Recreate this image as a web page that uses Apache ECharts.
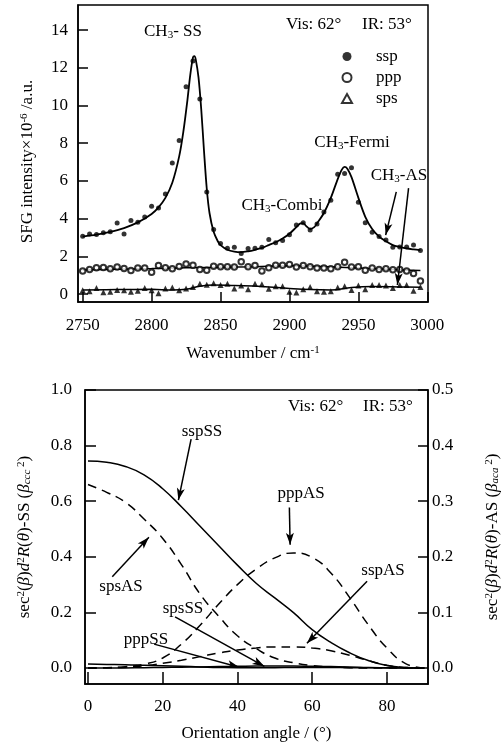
<!DOCTYPE html>
<html><head><meta charset="utf-8">
<script src="https://cdn.jsdelivr.net/npm/echarts@6/dist/echarts.min.js"></script>
<style>html,body{margin:0;padding:0;background:#fff}#c{width:503px;height:748px}</style>
</head><body><div id="c"></div>
<script>
// ---------- Top panel: SFG spectra ----------
const wavenumber = [2750,2755,2760,2765,2770,2775,2780,2785,2790,2795,2800,2805,2810,2815,2820,2825,2830,2835,2840,2845,2850,2855,2860,2865,2870,2875,2880,2885,2890,2895,2900,2905,2910,2915,2920,2925,2930,2935,2940,2945,2950,2955,2960,2965,2970,2975,2980,2985,2990,2995];
const sspSignal = [3.07,3.19,3.16,3.25,3.30,3.77,3.19,3.90,3.81,4.09,4.66,4.57,5.31,6.95,8.15,11.0,12.36,10.35,5.41,3.42,2.68,2.43,2.49,2.15,2.42,2.43,2.49,2.89,2.72,2.84,3.15,3.66,3.78,3.40,3.72,4.35,4.97,6.35,6.40,6.70,4.87,3.78,3.28,3.05,2.87,2.49,2.50,2.50,2.60,2.31];
const pppSignal = [1.22,1.31,1.39,1.41,1.34,1.43,1.36,1.25,1.38,1.38,1.16,1.52,1.39,1.34,1.46,1.60,1.53,1.31,1.27,1.48,1.45,1.45,1.43,1.71,1.45,1.52,1.22,1.39,1.53,1.53,1.57,1.43,1.52,1.45,1.38,1.38,1.34,1.45,1.69,1.43,1.45,1.27,1.38,1.31,1.34,1.29,1.31,1.22,1.09,0.69];
const spsSignal = [0.20,0.15,0.32,0.10,0.12,0.22,0.20,0.12,0.18,0.32,0.20,0.05,0.30,0.35,0.20,0.30,0.38,0.55,0.50,0.58,0.48,0.55,0.30,0.45,0.25,0.55,0.52,0.28,0.42,0.42,0.12,0.08,0.25,0.38,0.15,0.12,0.15,0.35,0.42,0.22,0.45,0.25,0.48,0.48,0.45,0.32,0.48,0.48,0.18,0.38];
const sspFitX = [2750,2760,2770,2780,2790,2800,2805,2810,2815,2820,2823,2826,2828,2830,2831,2832,2834,2836,2838,2840,2842,2845,2848,2850,2855,2860,2865,2870,2875,2880,2885,2890,2895,2900,2905,2908,2910,2912,2915,2918,2920,2925,2930,2935,2938,2940,2942,2945,2950,2955,2960,2965,2970,2975,2980,2985,2990,2995];
const sspFitY = [3.05,3.15,3.30,3.50,3.80,4.25,4.60,5.10,5.90,7.30,8.60,10.30,11.60,12.55,12.62,12.45,11.50,9.80,7.60,5.60,4.30,3.30,2.80,2.60,2.35,2.25,2.22,2.27,2.35,2.45,2.60,2.75,2.95,3.20,3.55,3.75,3.76,3.62,3.45,3.55,3.75,4.30,5.10,6.10,6.60,6.75,6.65,6.20,5.10,4.10,3.45,3.05,2.80,2.60,2.50,2.42,2.37,2.33];
const pppFitX = [2750,2775,2800,2825,2850,2875,2900,2925,2950,2975,2995];
const pppFitY = [1.28,1.32,1.35,1.40,1.42,1.45,1.50,1.46,1.38,1.30,1.25];
const spsFitX = [2750,2775,2800,2815,2825,2835,2845,2860,2880,2900,2915,2930,2945,2960,2980,2995];
const spsFitY = [0.22,0.24,0.25,0.21,0.25,0.42,0.48,0.45,0.40,0.30,0.24,0.22,0.35,0.40,0.38,0.36];
const topXTicks = [2750,2800,2850,2900,2950,3000];
const topYTicks = [0,2,4,6,8,10,12,14];

// ---------- Bottom panel: orientation curves ----------
const angle = [0,5,10,15,20,25,30,35,40,45,50,55,60,65,70,75,80,85,90];
const sspSS = [0.745,0.740,0.725,0.695,0.645,0.580,0.510,0.440,0.370,0.305,0.252,0.199,0.138,0.092,0.055,0.027,0.009,0.002,0.0];
const pppSS = [0.014,0.013,0.012,0.010,0.008,0.006,0.004,0.002,0.001,0.001,0.001,0.002,0.002,0.002,0.001,0.001,0.0005,0,0];
const spsSS = [0,0.0002,0.0005,0.001,0.002,0.003,0.004,0.005,0.006,0.007,0.007,0.007,0.006,0.005,0.004,0.002,0.001,0.0003,0];
const spsAS = [0.330,0.316,0.298,0.268,0.233,0.186,0.133,0.093,0.058,0.035,0.018,0.0095,0.0045,0.002,0.0005,0,0,0,0];
const pppAS = [0,0.0005,0.0025,0.007,0.018,0.043,0.077,0.115,0.150,0.178,0.198,0.207,0.199,0.171,0.127,0.078,0.036,0.008,0];
const sspAS = [0,0.0005,0.0015,0.004,0.0085,0.014,0.0205,0.027,0.0325,0.036,0.038,0.038,0.036,0.031,0.023,0.0135,0.005,0.001,0];
const botXTicks = [0,20,40,60,80];
const botYLeftTicks = [0,0.2,0.4,0.6,0.8,1.0];
const botYRightTicks = [0,0.1,0.2,0.3,0.4,0.5];

const FONT = 'Liberation Serif';
const base = {color:'#000', fontFamily:FONT, fontSize:17};
const supS = {color:'#000', fontFamily:FONT, fontSize:11, verticalAlign:'top'};
const subS = {color:'#000', fontFamily:FONT, fontSize:11, verticalAlign:'bottom'};
const richSet = {
  a: base,
  i: Object.assign({}, base, {fontStyle:'italic'}),
  sup: supS,
  sub: subS,
  isub: Object.assign({}, subS, {fontStyle:'italic'})
};
const axisLineS = {show:true, onZero:false, lineStyle:{color:'#000', width:1.5}};
function tickS(vals, len){ return {show:true, inside:true, length:len, customValues:vals, lineStyle:{color:'#000', width:1.5}}; }

const pairs = (xs, ys) => xs.map((x,i)=>[x, ys[i]]);

const chart = echarts.init(document.getElementById('c'), null, {renderer:'canvas'});

const arrowLine = (a, b) => [{coord:a, symbol:'none'}, {coord:b, symbol:'arrow', symbolSize:[6,12]}];

function txt(x, y, text, align){
  return {type:'text', x:x, y:y, silent:true, style:{text:text, align:align||'center', verticalAlign:'middle', fill:'#000', fontFamily:FONT, fontSize:17, rich:richSet}};
}

const option = {
  animation:false,
  backgroundColor:'#fff',
  grid:[
    {left:78, top:5, width:350, height:297, show:true, borderColor:'#000', borderWidth:1.5, outerBoundsMode:'none', containLabel:false},
    {left:85, top:390, width:343, height:294, show:true, borderColor:'#000', borderWidth:1.5, outerBoundsMode:'none', containLabel:false}
  ],
  legend:{
    left:336, top:43, orient:'vertical', itemWidth:10, itemHeight:9, itemGap:4,
    selectedMode:false,
    textStyle:Object.assign({padding:[0,0,0,19]}, base),
    data:[{name:'ssp', icon:'circle'},
          {name:'ppp', icon:'emptyCircle', itemStyle:{borderWidth:2}},
          {name:'sps', icon:'emptyTriangle', itemStyle:{borderWidth:1.6}}]
  },
  xAxis:[
    {type:'value', gridIndex:0, min:2746.6, max:3000.5, axisLine:axisLineS, axisTick:tickS(topXTicks,10),
     axisLabel:Object.assign({customValues:topXTicks, margin:15, formatter:v=>String(v)}, base), splitLine:{show:false},
     name:'{a|Wavenumber / cm}{sup|-1}', nameLocation:'middle', nameGap:43, nameTextStyle:Object.assign({rich:richSet}, base)},
    {type:'value', gridIndex:1, min:-0.8, max:91, axisLine:axisLineS, axisTick:tickS(botXTicks,12),
     axisLabel:Object.assign({customValues:botXTicks, margin:14, formatter:v=>String(v)}, base), splitLine:{show:false},
     name:'Orientation angle / (°)', nameLocation:'middle', nameGap:41, nameTextStyle:base}
  ],
  yAxis:[
    {type:'value', gridIndex:0, min:-0.42, max:15.33, axisLine:axisLineS, axisTick:tickS(topYTicks,10),
     axisLabel:Object.assign({customValues:topYTicks, margin:10, formatter:v=>String(v)}, base), splitLine:{show:false},
     name:'{a|SFG intensity×10}{sup|-6}{a| /a.u.}', nameLocation:'middle', nameRotate:90, nameGap:42, nameTextStyle:Object.assign({rich:richSet, padding:[0,16,0,0]}, base)},
    {type:'value', gridIndex:1, min:-0.0575, max:1.0, axisLine:axisLineS, axisTick:tickS(botYLeftTicks,11),
     axisLabel:Object.assign({customValues:botYLeftTicks, margin:13, formatter:v=>v.toFixed(1)}, base), splitLine:{show:false},
     name:'{a|sec}{sup|2}{a|(}{i|β}{a|)}{i|d}{sup|2}{i|R}{a|(}{i|θ}{a|)-SS (}{i|β}{isub|ccc}{sup| 2}{a|)}', nameLocation:'middle', nameRotate:90, nameGap:52, nameTextStyle:Object.assign({rich:richSet}, base)},
    {type:'value', gridIndex:1, position:'right', min:-0.02875, max:0.5, axisLine:axisLineS, axisTick:tickS(botYRightTicks,10),
     axisLabel:Object.assign({customValues:botYRightTicks, margin:4, formatter:v=>v.toFixed(1)}, base), splitLine:{show:false},
     name:'{a|sec}{sup|2}{a|(}{i|β}{a|)}{i|d}{sup|2}{i|R}{a|(}{i|θ}{a|)-AS (}{i|β}{isub|aca}{sup| 2}{a|)}', nameLocation:'middle', nameRotate:90, nameGap:56, nameTextStyle:Object.assign({rich:richSet}, base)}
  ],
  series:[
    {name:'ssp fit', type:'line', xAxisIndex:0, yAxisIndex:0, data:pairs(sspFitX, sspFitY), showSymbol:false, smooth:0.3, lineStyle:{color:'#000', width:1.8}, silent:true, z:2,
     markLine:{silent:true, animation:false, label:{show:false}, lineStyle:{color:'#000', width:1.5, type:'solid'},
       data:[arrowLine([2977.5,5.42],[2969.8,3.13]), arrowLine([2986.4,5.62],[2978.3,0.48])]}},
    {name:'ppp fit', type:'line', xAxisIndex:0, yAxisIndex:0, data:pairs(pppFitX, pppFitY), showSymbol:false, smooth:0.4, lineStyle:{color:'#000', width:1.5}, silent:true, z:2},
    {name:'sps fit', type:'line', xAxisIndex:0, yAxisIndex:0, data:pairs(spsFitX, spsFitY), showSymbol:false, smooth:0.4, lineStyle:{color:'#000', width:1.5}, silent:true, z:2},
    {name:'ssp', type:'scatter', xAxisIndex:0, yAxisIndex:0, data:pairs(wavenumber, sspSignal), symbol:'circle', symbolSize:5, itemStyle:{color:'#000'}, z:3},
    {name:'ppp', type:'scatter', xAxisIndex:0, yAxisIndex:0, data:pairs(wavenumber, pppSignal), symbol:'emptyCircle', symbolSize:5.5, itemStyle:{color:'#000', borderWidth:1}, z:3},
    {name:'sps', type:'scatter', xAxisIndex:0, yAxisIndex:0, data:pairs(wavenumber, spsSignal), symbol:'triangle', symbolSize:6, itemStyle:{color:'#000'}, z:3},

    {name:'sspSS', type:'line', xAxisIndex:1, yAxisIndex:1, data:pairs(angle, sspSS), showSymbol:false, smooth:true, lineStyle:{color:'#000', width:1.5}, silent:true,
     markLine:{silent:true, animation:false, label:{show:false}, lineStyle:{color:'#000', width:1.5, type:'solid'},
       data:[arrowLine([27.6,0.823],[24.2,0.604]), arrowLine([53.9,0.577],[54.1,0.443]), arrowLine([6.5,0.328],[16.3,0.470]),
             arrowLine([74.7,0.312],[58.6,0.089]), arrowLine([23.3,0.184],[47.2,0.006]), arrowLine([17.7,0.086],[40.5,0.0025])]}},
    {name:'pppSS', type:'line', xAxisIndex:1, yAxisIndex:1, data:pairs(angle, pppSS), showSymbol:false, smooth:true, lineStyle:{color:'#000', width:1.5}, silent:true},
    {name:'spsSS', type:'line', xAxisIndex:1, yAxisIndex:1, data:pairs(angle, spsSS), showSymbol:false, smooth:true, lineStyle:{color:'#000', width:1.5}, silent:true},
    {name:'spsAS', type:'line', xAxisIndex:1, yAxisIndex:2, data:pairs(angle, spsAS), showSymbol:false, smooth:true, lineStyle:{color:'#000', width:1.5, type:[9,6]}, silent:true},
    {name:'pppAS', type:'line', xAxisIndex:1, yAxisIndex:2, data:pairs(angle, pppAS), showSymbol:false, smooth:true, lineStyle:{color:'#000', width:1.5, type:[9,6]}, silent:true},
    {name:'sspAS', type:'line', xAxisIndex:1, yAxisIndex:2, data:pairs(angle, sspAS), showSymbol:false, smooth:true, lineStyle:{color:'#000', width:1.5, type:[9,6]}, silent:true}
  ],
  graphic:[
    txt(173, 32, '{a|CH}{sub|3}{a|- SS}'),
    txt(286, 25, 'Vis: 62°', 'left'),
    txt(362, 25, 'IR: 53°', 'left'),
    txt(352, 143, '{a|CH}{sub|3}{a|-Fermi}'),
    txt(282, 206, '{a|CH}{sub|3}{a|-Combi}'),
    txt(399, 176, '{a|CH}{sub|3}{a|-AS}'),
    txt(288, 407, 'Vis: 62°', 'left'),
    txt(363, 407, 'IR: 53°', 'left'),
    txt(202, 432, 'sspSS'),
    txt(301, 494, 'pppAS'),
    txt(121, 587, 'spsAS'),
    txt(383, 571, 'sspAS'),
    txt(183, 609, 'spsSS'),
    txt(146, 640, 'pppSS')
  ]
};
chart.setOption(option);
</script>
</body></html>
